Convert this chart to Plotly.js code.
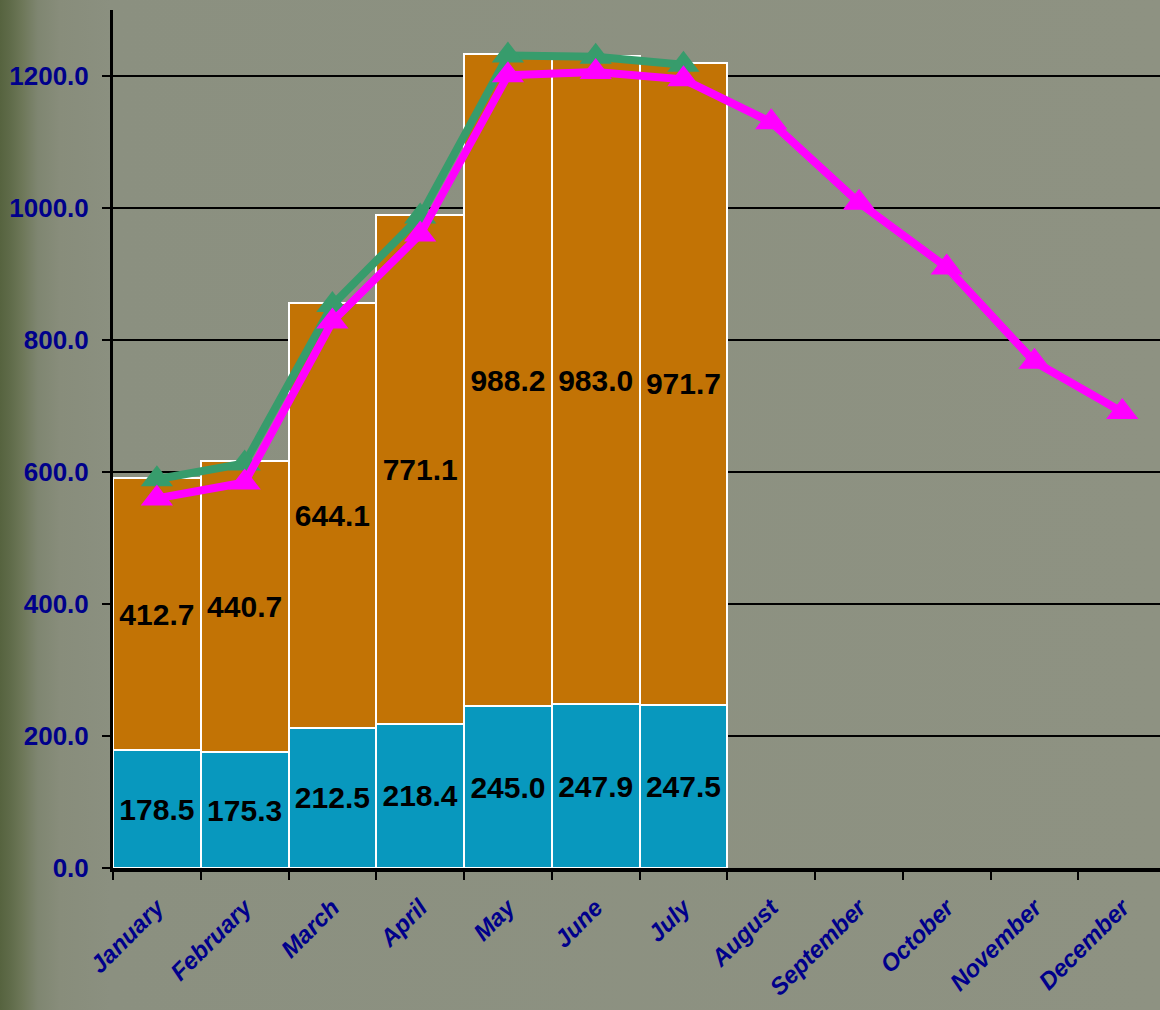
<!DOCTYPE html>
<html>
<head>
<meta charset="utf-8">
<script src="https://cdn.plot.ly/plotly-3.0.1.min.js"></script>
<style>
  html, body { margin: 0; padding: 0; width: 1160px; height: 1010px; overflow: hidden; }
  body {
    background: linear-gradient(to right, #56633f 0px, #5f6b49 10px, #6d7758 22px, #7f8671 38px, #888d7b 60px, #8b9080 110px, #8e9282 100%);
  }
  #chart { width: 1160px; height: 1010px; }
</style>
</head>
<body>
<div id="chart"></div>
<script>
// ---- data ----
const months = ["January","February","March","April","May","June","July","August","September","October","November","December"];
const barMonths = ["January","February","March","April","May","June","July"];
const blueValues = [178.5, 175.3, 212.5, 218.4, 245.0, 247.9, 247.5];
const orangeValues = [412.7, 440.7, 644.1, 771.1, 988.2, 983.0, 971.7];
const greenLine = [589, 613, 853, 987, 1231, 1229, 1217];
const pinkLine = [560, 584, 828, 960, 1201, 1206, 1195, 1130, 1008, 910, 767, 691];
const yTicks = [0, 200, 400, 600, 800, 1000, 1200];

const labelFont = { family: "Liberation Sans, Arial, sans-serif", size: 30, color: "#000000", weight: "bold" };

const traces = [
  {
    type: "bar", x: barMonths, y: blueValues,
    text: blueValues.map(v => "<b>" + v.toFixed(1) + "</b>"),
    textposition: "inside", insidetextanchor: "middle", constraintext: "none",
    textfont: labelFont,
    marker: { color: "#0898be", line: { color: "#ffffff", width: 2 } },
    hoverinfo: "skip", showlegend: false
  },
  {
    type: "bar", x: barMonths, y: orangeValues,
    text: orangeValues.map(v => "<b>" + v.toFixed(1) + "</b>"),
    textposition: "inside", insidetextanchor: "middle", constraintext: "none",
    textfont: labelFont,
    marker: { color: "#c27305", line: { color: "#ffffff", width: 2 } },
    hoverinfo: "skip", showlegend: false
  },
  {
    type: "scatter", mode: "lines+markers", x: barMonths, y: greenLine,
    line: { color: "#379c6c", width: 8 },
    marker: { symbol: "triangle-up", size: 28, color: "#379c6c" },
    hoverinfo: "skip", showlegend: false
  },
  {
    type: "scatter", mode: "lines+markers", x: months, y: pinkLine,
    line: { color: "#ff00ff", width: 8 },
    marker: { symbol: "triangle-up", size: 28, color: "#ff00ff" },
    hoverinfo: "skip", showlegend: false
  }
];

const layout = {
  width: 1160, height: 1010,
  margin: { l: 113, r: 0, t: 10, b: 142 },
  paper_bgcolor: "rgba(0,0,0,0)",
  plot_bgcolor: "rgba(0,0,0,0)",
  barmode: "stack", bargap: 0,
  showlegend: false,
  xaxis: {
    type: "category", categoryorder: "array", categoryarray: months,
    range: [-0.5, 11.43],
    showgrid: false, zeroline: false,
    showline: true, linecolor: "#000000", linewidth: 4,
    ticks: "outside", tickson: "boundaries", ticklen: 8, tickwidth: 2, tickcolor: "#000000",
    tickangle: -45,
    ticklabelstandoff: 12,
    tickfont: { family: "Liberation Sans, Arial, sans-serif", size: 24, color: "#00008b", weight: "bold", style: "italic" }
  },
  yaxis: {
    range: [0, 1300],
    tickvals: yTicks, ticktext: yTicks.map(v => v.toFixed(1)),
    showgrid: true, gridcolor: "#000000", gridwidth: 2,
    zeroline: false,
    showline: true, linecolor: "#000000", linewidth: 3,
    ticks: "outside", ticklen: 8, tickwidth: 2, tickcolor: "#000000",
    ticklabelstandoff: 8,
    tickfont: { family: "Liberation Sans, Arial, sans-serif", size: 26, color: "#00008b", weight: "bold" }
  }
};

Plotly.newPlot("chart", traces, layout, { displayModeBar: false, staticPlot: true });
</script>
</body>
</html>
